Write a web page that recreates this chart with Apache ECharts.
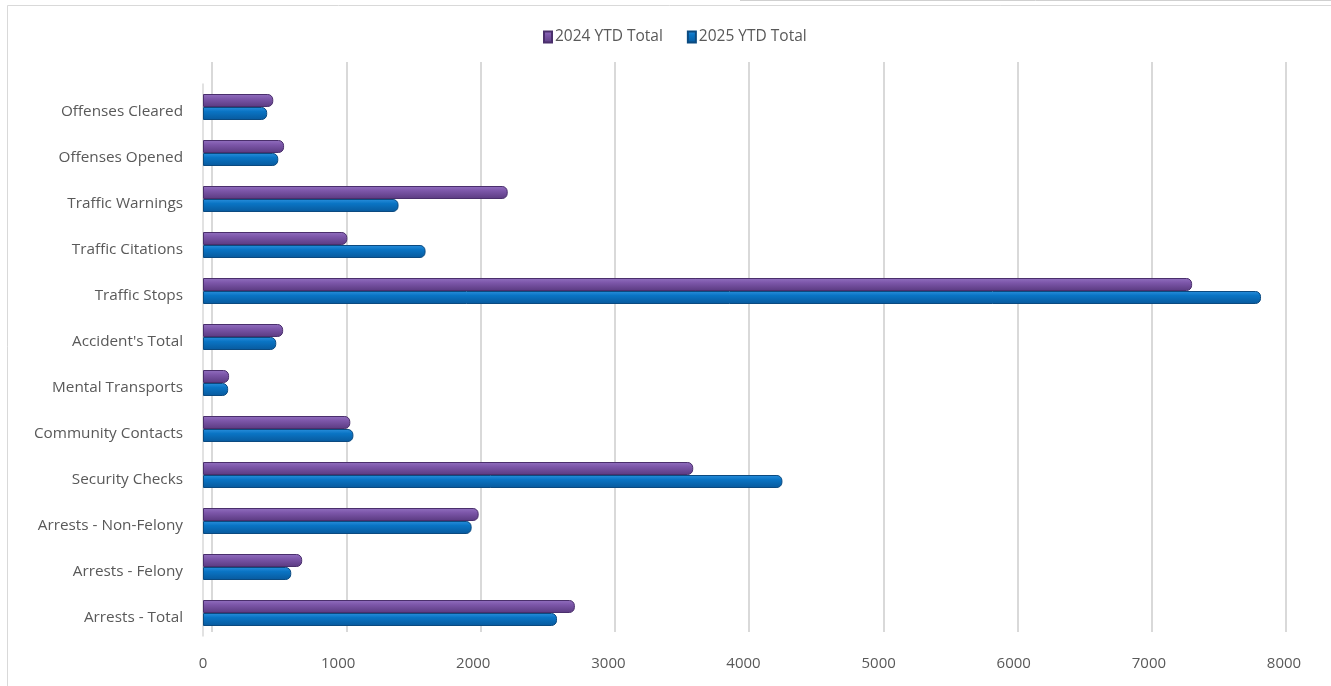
<!DOCTYPE html>
<html><head><meta charset="utf-8">
<script src="https://cdn.jsdelivr.net/npm/echarts@6/dist/echarts.min.js"></script>
<style>html,body{margin:0;padding:0;background:#fff}#c{width:1331px;height:686px}</style>
</head><body><div id="c"></div>
<script>
const categories = ["Arrests - Total","Arrests - Felony","Arrests - Non-Felony","Security Checks","Community Contacts","Mental Transports","Accident's Total","Traffic Stops","Traffic Citations","Traffic Warnings","Offenses Opened","Offenses Cleared"];
const ytd2024 = [2752,734,2040,3628,1090,193,593,7320,1068,2255,600,520];
const ytd2025 = [2620,653,1988,4288,1113,186,542,7830,1647,1447,557,475];
const xTicks = {min:0,max:8000,interval:1000};
const legendNames = ["2024 YTD Total","2025 YTD Total"];

const FONT = "'Open Sans', 'Liberation Sans', sans-serif";
const purple = new echarts.graphic.LinearGradient(0,0,0,1,[
  {offset:0,color:'#9270c0'},{offset:0.35,color:'#7d57aa'},{offset:1,color:'#5a3a80'}]);
const blue = new echarts.graphic.LinearGradient(0,0,0,1,[
  {offset:0,color:'#2a8fdc'},{offset:0.35,color:'#0a74c4'},{offset:1,color:'#08599c'}]);

const chart = echarts.init(document.getElementById('c'), null, {renderer:'canvas'});
chart.setOption({
  animation:false,
  backgroundColor:'#fff',
  graphic:[
    {type:'rect',z:-10,shape:{x:7.5,y:5.5,width:1400,height:800},style:{fill:'none',stroke:'#d9d9d9',lineWidth:1}},
    {type:'line',z:-10,shape:{x1:740,y1:0.5,x2:1331,y2:0.5},style:{stroke:'#d0d0d0',lineWidth:1}}
  ],
  legend:{
    data:legendNames, top:24, left:538, itemGap:24,
    itemWidth:8, itemHeight:11, icon:'rect',
    textStyle:{color:'#595959',fontSize:15.5,fontFamily:FONT,padding:[0,0,0,-2]}
  },
  grid:[
    {left:203,right:47,top:84,bottom:50,containLabel:false},
    {left:212,right:45,top:62,bottom:54,containLabel:false}
  ],
  xAxis:[
    {gridIndex:0,type:'value',min:xTicks.min,max:xTicks.max,interval:xTicks.interval,
     axisLine:{show:false},axisTick:{show:false},splitLine:{show:false},
     axisLabel:{color:'#595959',fontSize:15,fontFamily:FONT,margin:20,formatter:v=>String(v)}},
    {gridIndex:1,type:'value',min:xTicks.min,max:xTicks.max,interval:xTicks.interval,
     axisLine:{show:false},axisTick:{show:false},axisLabel:{show:false},
     splitLine:{show:true,lineStyle:{color:'#d9d9d9',width:2}}}
  ],
  yAxis:[
    {gridIndex:0,type:'category',data:categories,
     axisLine:{show:true,lineStyle:{color:'#d9d9d9',width:1.5}},axisTick:{show:false},
     axisLabel:{color:'#595959',fontSize:15.3,fontFamily:FONT,margin:20,verticalAlign:'top',lineHeight:10}},
    {gridIndex:1,type:'value',show:false,min:0,max:1}
  ],
  series:[
    {name:legendNames[0],type:'bar',xAxisIndex:0,yAxisIndex:0,data:ytd2024,
     barWidth:13,barGap:'0%',
     itemStyle:{color:purple,borderColor:'#4a2f6c',borderWidth:1,borderRadius:[0,5,5,0]}},
    {name:legendNames[1],type:'bar',xAxisIndex:0,yAxisIndex:0,data:ytd2025,
     barWidth:13,barGap:'0%',
     itemStyle:{color:blue,borderColor:'#0b4a80',borderWidth:1,borderRadius:[0,5,5,0]}}
  ]
});
</script></body></html>
